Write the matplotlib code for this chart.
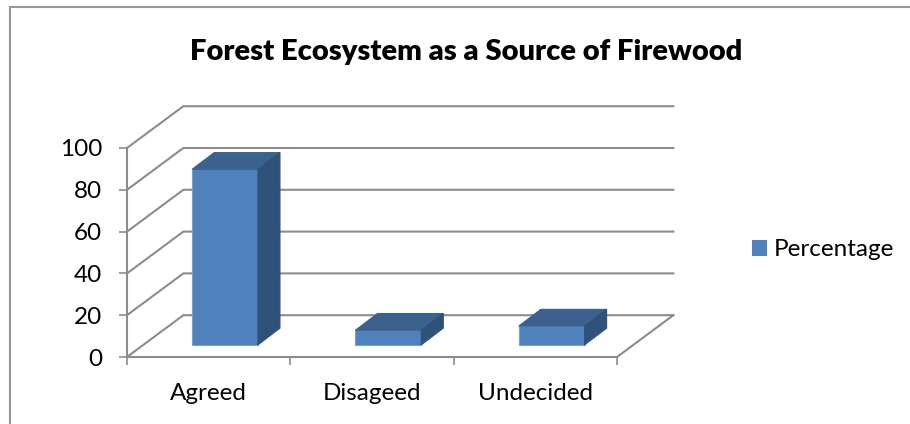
import matplotlib
matplotlib.use('Agg')
import matplotlib.pyplot as plt
from matplotlib.lines import Line2D
from matplotlib.patches import Polygon, Rectangle

categories = ['Agreed', 'Disageed', 'Undecided']
percentage = [84, 7, 9]
y_ticks = [0, 20, 40, 60, 80, 100]

BLUE = '#4f81bd'
TOP = '#3b618f'
SIDE = '#30527a'
EDGE = '#7f9fc9'
GRID = '#8c8c8c'

# oblique offset of the back wall, in data units
DEPTH_X = 0.345
DEPTH_Y = 20.0
# bar box inside the floor
BAR_W = 0.403
BAR_SHIFT = 0.10
BAR_BASE = 5.8
BAR_DX = 0.135
BAR_DY = 8.0

plt.rcParams['font.family'] = ['Lato', 'DejaVu Sans']

W, H = 910, 424
fig = plt.figure(figsize=(W / 100, H / 100), dpi=100)
# only the top and left edges of the chart frame are inside the picture
fig.add_artist(Line2D([10 / W, 10 / W, 1], [0, 1 - 7 / H, 1 - 7 / H], transform=fig.transFigure,
                      color='#969696', linewidth=1.5, solid_joinstyle='miter'))

ax = fig.add_axes([127 / W, 1 - 357 / H, 490 / W, 209 / H])
ax.set_xlim(0, 3)
ax.set_ylim(0, 100)
ax.patch.set_visible(False)

# walls
for v in y_ticks:
    ax.plot([0, DEPTH_X, 3 + DEPTH_X], [v, v + DEPTH_Y, v + DEPTH_Y], color=GRID, lw=1.5,
            clip_on=False, zorder=1, solid_joinstyle='miter')
ax.plot([3, 3 + DEPTH_X], [0, DEPTH_Y], color=GRID, lw=1.5, clip_on=False, zorder=1)

# bars
for i, v in enumerate(percentage):
    x0 = i + 0.5 - BAR_W / 2 + BAR_SHIFT
    x1 = x0 + BAR_W
    y0 = BAR_BASE
    y1 = BAR_BASE + v
    ax.add_patch(Polygon([(x0, y0), (x1, y0), (x1, y1), (x0, y1)], facecolor=BLUE,
                         edgecolor=EDGE, lw=0.8, clip_on=False, zorder=3))
    ax.add_patch(Polygon([(x0, y1), (x1, y1), (x1 + BAR_DX, y1 + BAR_DY), (x0 + BAR_DX, y1 + BAR_DY)],
                         facecolor=TOP, edgecolor=TOP, lw=0.8, clip_on=False, zorder=3))
    ax.add_patch(Polygon([(x1, y0), (x1 + BAR_DX, y0 + BAR_DY), (x1 + BAR_DX, y1 + BAR_DY), (x1, y1)],
                         facecolor=SIDE, edgecolor=SIDE, lw=0.8, clip_on=False, zorder=3))

for s in ['top', 'right']:
    ax.spines[s].set_visible(False)
for s in ['left', 'bottom']:
    ax.spines[s].set_color(GRID)
    ax.spines[s].set_linewidth(1.5)

ax.set_yticks(y_ticks)
ax.set_xticks([0, 1, 2, 3])
ax.set_xticklabels([])
ax.set_xticks([0.5, 1.5, 2.5], minor=True)
ax.set_xticklabels(categories, minor=True)
ax.tick_params(axis='x', which='major', length=6, width=1.2, color=GRID)
ax.tick_params(axis='x', which='minor', length=0, pad=19, labelsize=17.5, labelcolor='black')
ax.tick_params(axis='y', length=6, width=1.2, color=GRID, labelsize=17.5, pad=12)
for label in ax.get_yticklabels():
    label.set_verticalalignment('center_baseline')

fig.text(466 / W, 1 - 52 / H, 'Forest Ecosystem as a Source of Firewood', ha='center', va='center',
         fontsize=21, fontweight='heavy')

handle = Rectangle((0, 0), 1, 1, facecolor=BLUE, edgecolor='none')
fig.legend([handle], ['Percentage'], loc='center left', bbox_to_anchor=(752 / W, 1 - 250 / H),
           frameon=False, fontsize=17.5, handlelength=0.62, handleheight=0.62, handletextpad=0.29,
           borderpad=0, borderaxespad=0)

fig.savefig('out.png', dpi=100)
